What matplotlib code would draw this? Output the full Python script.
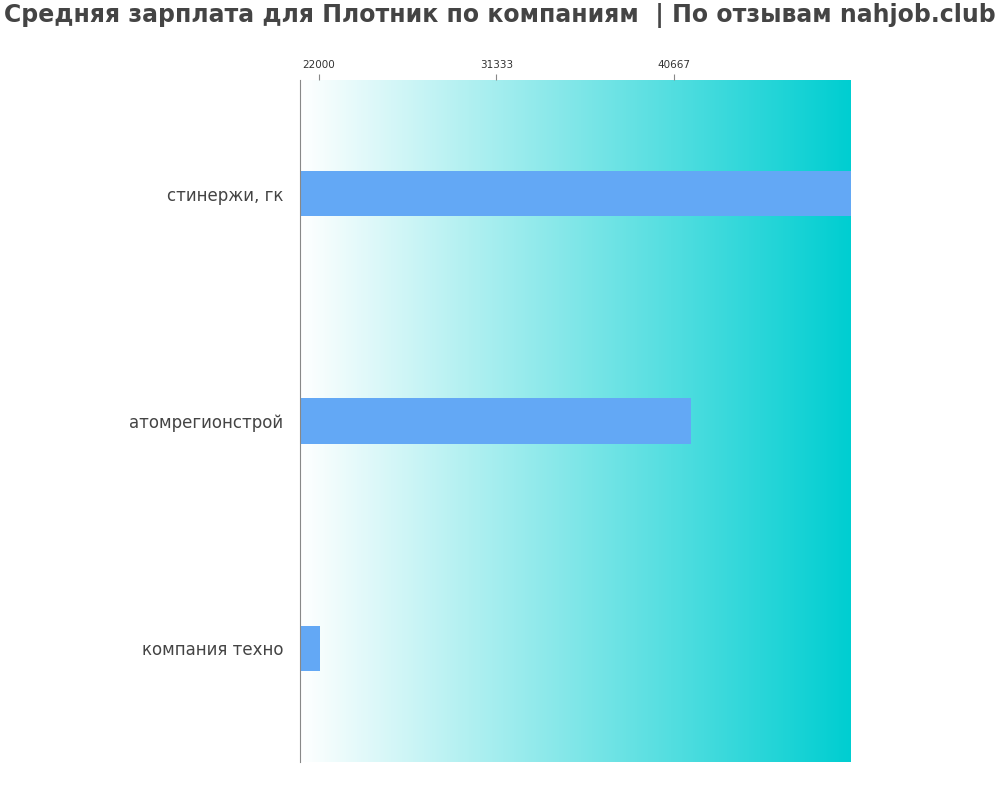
import matplotlib
matplotlib.use("Agg")
import matplotlib.pyplot as plt
import numpy as np
from matplotlib.colors import LinearSegmentedColormap

companies = ["стинержи, гк", "атомрегионстрой", "компания техно"]
salaries = [50000, 41560, 22050]
ticks = [22000, 31333, 40667]
xmin, xmax = 21000, 50000

fig = plt.figure(figsize=(10, 8), dpi=100)
ax = fig.add_axes([0.30, 0.0475, 0.551, 0.8525])
ax.set_xlim(xmin, xmax)
ax.set_ylim(2.5, -0.5)
cmap = LinearSegmentedColormap.from_list("g", ["#ffffff", "#00ced1"])
grad = np.linspace(0, 1, 256).reshape(1, -1)
ax.imshow(grad, aspect="auto", cmap=cmap, extent=[xmin, xmax, 2.5, -0.5], zorder=0)
y = np.arange(len(companies))
ax.barh(y, [s - xmin for s in salaries], left=xmin, height=0.2, color="#63a8f5", zorder=2)
ax.set_yticks(y)
ax.set_yticklabels(companies, fontsize=12, color="#444444")
ax.tick_params(axis="y", length=0, pad=12)
ax.xaxis.tick_top()
ax.set_xticks(ticks)
ax.set_xticklabels([str(t) for t in ticks], fontsize=7.5, color="#333333")
ax.tick_params(axis="x", length=4, color="#888888")
for s in ["right", "bottom", "top"]:
    ax.spines[s].set_visible(False)
ax.spines["left"].set_color("#888888")
fig.text(0.5, 0.98, "Средняя зарплата для Плотник по компаниям  | По отзывам nahjob.club",
         ha="center", va="center", fontsize=17, fontweight="bold", color="#444444")
fig.savefig("out.png")
